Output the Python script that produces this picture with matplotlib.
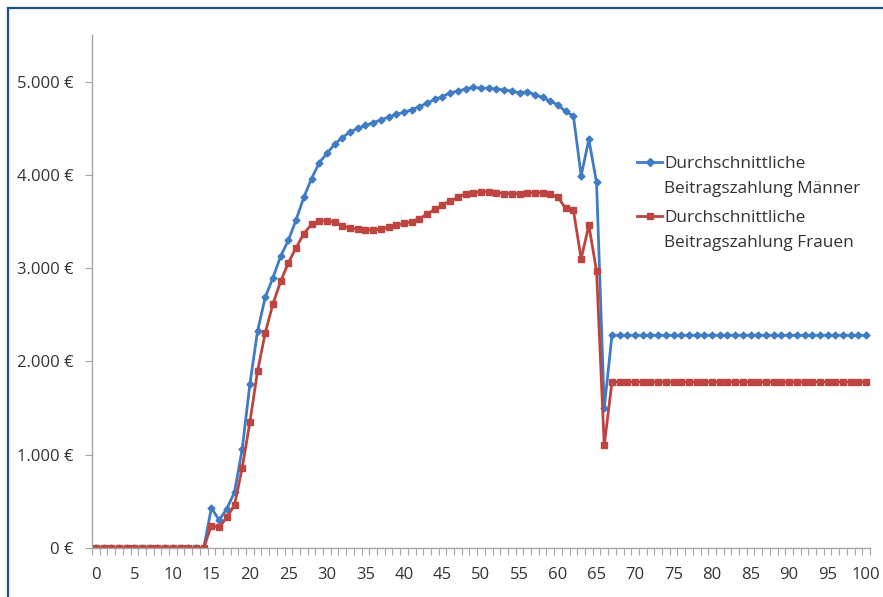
import numpy as np
import matplotlib.pyplot as plt
from matplotlib.lines import Line2D
from matplotlib.patches import Rectangle
from matplotlib.ticker import FuncFormatter, MultipleLocator

alter = list(range(0, 101))

maenner = [0] * 15 + [
    430, 300, 420, 600, 1060, 1760, 2330, 2690, 2900, 3130,
    3300, 3520, 3760, 3960, 4130, 4230, 4330, 4400, 4460, 4500,
    4530, 4560, 4590, 4620, 4650, 4670, 4700, 4730, 4770, 4810,
    4840, 4880, 4900, 4920, 4940, 4930, 4930, 4920, 4910, 4900,
    4880, 4890, 4860, 4830, 4790, 4750, 4680, 4630, 3990, 4380,
    3920, 1500] + [2280] * 34

frauen = [0] * 15 + [
    240, 220, 330, 460, 860, 1350, 1900, 2310, 2620, 2860,
    3060, 3220, 3370, 3470, 3510, 3510, 3490, 3450, 3430, 3420,
    3410, 3410, 3420, 3440, 3460, 3480, 3500, 3530, 3580, 3630,
    3680, 3720, 3760, 3800, 3810, 3820, 3820, 3810, 3800, 3800,
    3800, 3810, 3810, 3810, 3790, 3760, 3640, 3620, 3100, 3460,
    2970, 1100] + [1780] * 34

label_m = "Durchschnittliche\nBeitragszahlung Männer"
label_f = "Durchschnittliche\nBeitragszahlung Frauen"

blau = "#3F7CC4"
rot = "#BE4441"
grau = "#A6A6A6"
text_col = "#333333"

plt.rcParams['font.family'] = ['Open Sans', 'DejaVu Sans']

fig = plt.figure(figsize=(8.83, 5.97), dpi=100)
W, H = 883, 597
ax = fig.add_axes([92 / W, (H - 548) / H, (870 - 92) / W, (548 - 35) / H])

# blauer Rahmen
fig.patches.append(Rectangle((8 / W, -0.1), 1.2, (H - 8) / H + 0.1,
                             transform=fig.transFigure, fill=False,
                             edgecolor="#1F4E8C", linewidth=1.6))

serien = [(maenner, blau, "D", 3.5, label_m),
          (frauen, rot, "s", 4, label_f)]
for werte, farbe, mk, ms, lab in serien:
    ax.plot(alter, werte, color=farbe, lw=2, marker=mk, ms=ms,
            mfc=farbe, mec=farbe, label=lab)

ax.set_xlim(-0.5, 100.5)
ax.set_ylim(0, 5500)
ax.set_xticks(range(0, 101, 5))
ax.xaxis.set_minor_locator(MultipleLocator(1, offset=0.5))
ax.set_yticks(range(0, 5001, 1000))
ax.yaxis.set_major_formatter(FuncFormatter(
    lambda v, p: "{:,.0f} €".format(v).replace(",", ".")))

for s in ["top", "right"]:
    ax.spines[s].set_visible(False)
for s in ["left", "bottom"]:
    ax.spines[s].set_color(grau)
    ax.spines[s].set_linewidth(1)

ax.tick_params(axis="x", which="major", length=0, pad=14,
               labelsize=12, labelcolor=text_col)
ax.tick_params(axis="x", which="minor", length=5, color=grau, width=0.8)
ax.tick_params(axis="y", length=5, color=grau, width=0.8, pad=8,
               labelsize=12, labelcolor=text_col)

# Legende (Excel-Stil: Symbol auf Höhe der ersten Zeile)
leg_y = [0.7524, 0.6472]
for (werte, farbe, mk, ms, lab), y in zip(serien, leg_y):
    ax.add_line(Line2D([0.7005, 0.7326], [y, y], transform=ax.transAxes,
                       color=farbe, lw=2, clip_on=False))
    ax.add_line(Line2D([0.7166], [y], transform=ax.transAxes, color=farbe,
                       marker=mk, ms=ms + 0.5, clip_on=False))
    ax.text(0.7352, y - 0.0282, lab, transform=ax.transAxes, fontsize=12.4,
            color=text_col, va="center", ha="left", linespacing=1.7)

fig.savefig("out.png", dpi=100)
